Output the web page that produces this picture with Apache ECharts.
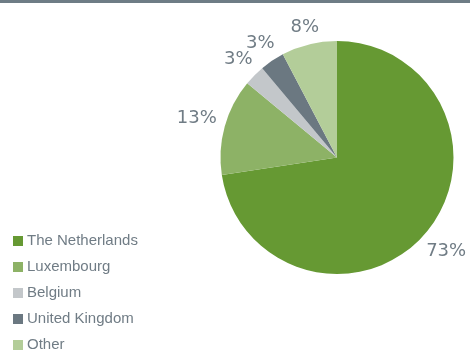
<!DOCTYPE html>
<html><head><meta charset="utf-8">
<script src="https://cdn.jsdelivr.net/npm/echarts@6/dist/echarts.min.js"></script>
<style>html,body{margin:0;padding:0;background:#fff}#c{position:absolute;left:0;top:0;width:470px;height:354px}#bar{position:absolute;left:0;top:0;width:470px;height:3px;background:#6e7c85;z-index:2}</style>
</head><body><div id="c"></div><div id="bar"></div>
<script>
const categories = ['The Netherlands','Luxembourg','Belgium','United Kingdom','Other'];
const values = [72.6,13.4,2.9,3.4,7.7];
const colors = ['#669933','#8db266','#c3c7ca','#6b7881','#b3cd99'];
const chart = echarts.init(document.getElementById('c'), null, {renderer:'canvas'});
const GAP = 8;
chart.setOption({
  animation:false,
  color: colors,
  legend:{
    orient:'vertical', left:13, top:233, height:140, padding:0,
    itemWidth:10, itemHeight:10, itemGap:10,
    icon:'rect', selectedMode:false,
    textStyle:{fontFamily:'Liberation Sans', fontSize:15, lineHeight:16, color:'#707c85', padding:[0,0,0,-1]},
    data: categories
  },
  series:[{
    type:'pie', center:[337,157.5], radius:116.5, startAngle:90, clockwise:true,
    avoidLabelOverlap:false, percentPrecision:0,
    label:{show:true, position:'outside', formatter:'{d}%', fontFamily:'DejaVu Sans', fontSize:18, color:'#707c85', distanceToLabelLine:0},
    labelLine:{show:true, length:8, length2:0, lineStyle:{opacity:0}},
    itemStyle:{borderWidth:0},
    labelLayout: function(p){
      const pts = p.labelLinePoints;
      if(!pts) return {};
      const x0=pts[0][0], y0=pts[0][1], x1=pts[1][0], y1=pts[1][1];
      const L = Math.hypot(x1-x0,y1-y0) || 1;
      const ux=(x1-x0)/L, uy=(y1-y0)/L;
      const w=p.labelRect.width, h=13;
      const d = GAP + Math.abs(ux)*w/2 + Math.abs(uy)*h/2;
      return {x: x0+ux*d, y: y0+uy*d, align:'center', verticalAlign:'middle'};
    },
    data: categories.map((n,i)=>({name:n, value:values[i]}))
  }]
});
</script></body></html>
